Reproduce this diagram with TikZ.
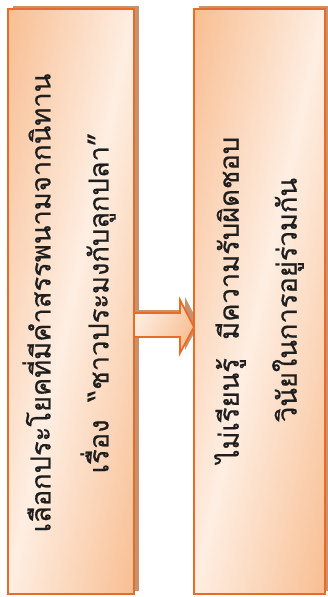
\documentclass[tikz,border=0pt]{standalone}
\usepackage{fontspec}
\newfontfamily\thaifont[Script=Thai,FakeBold=0.6]{Loma}
\definecolor{boxedge}{RGB}{230,108,40}
\definecolor{peachdark}{RGB}{248,190,146}
\definecolor{peachlight}{RGB}{254,238,226}
\definecolor{shadowbrown}{RGB}{200,146,110}
\definecolor{inktext}{RGB}{30,30,30}
\tikzset{
  panelfill/.style={top color=peachdark, bottom color=peachdark, middle color=peachlight},
  paneledge/.style={draw=boxedge, line width=1.8pt},
  panelshadow/.style={fill=shadowbrown},
  arrowshape/.style={draw=boxedge, line width=1.8pt, line join=miter, left color=peachlight, right color=peachdark, shading angle=60},
  thaitext/.style={rotate=90, align=center, text=inktext, inner sep=0pt, font=\thaifont\fontsize{27.3}{58}\selectfont}
}
\begin{document}
\begin{tikzpicture}[x=1pt,y=-1pt]
\useasboundingbox (0,0) rectangle (327,597);
% left panel
\fill[panelshadow] (13,6) rectangle (139,591);
\begin{scope}
  \clip (8,9) rectangle (134,594);
  \shade[panelfill, transform canvas={shift={(71,301.5)}, rotate=77.85}] (-320,-123.2) rectangle (320,123.2);
\end{scope}
\draw[paneledge] (8,9) rectangle (134,594);
\node[thaitext] (lefttext) at (69,303) {เลือกประโยคที่มีคำสรรพนามจากนิทาน\\เรื่อง\ \ “ชาวประมงกับลูกปลา”};
% arrow shadow
\fill[panelshadow] (138,310) -- (185,310) -- (185,297) -- (199,324) -- (185,350) -- (185,334) -- (138,334) -- cycle;
% right panel
\fill[panelshadow] (199,6) rectangle (330,591);
\begin{scope}
  \clip (194,9) rectangle (325,594);
  \shade[panelfill, transform canvas={shift={(259.5,301.5)}, rotate=77.38}] (-320,-127.8) rectangle (320,127.8);
\end{scope}
\draw[paneledge] (194,9) rectangle (325,594);
\node[thaitext] (righttext) at (259,300) {ไม่เรียนรู้\ \ มีความรับผิดชอบ\\วินัยในการอยู่ร่วมกัน};
% arrow
\path[arrowshape] (134,313) -- (180,313) -- (180,300) -- (194,327) -- (180,353) -- (180,337) -- (134,337) -- cycle;
\end{tikzpicture}
\end{document}
